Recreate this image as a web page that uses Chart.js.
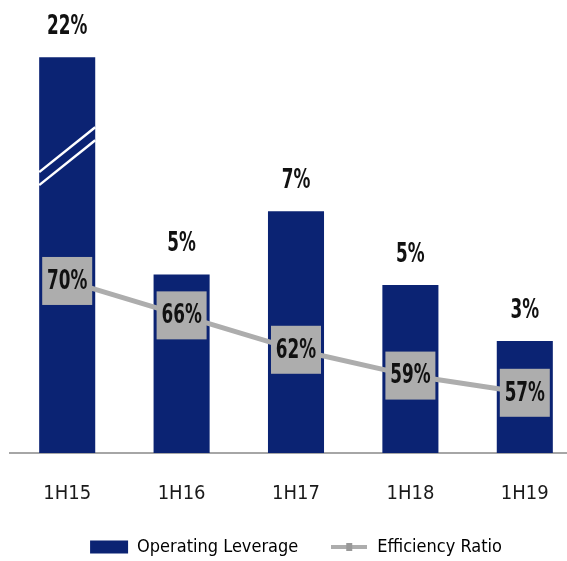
<!DOCTYPE html>
<html>
<head>
<meta charset="utf-8">
<script src="https://cdn.jsdelivr.net/npm/chart.js@4.4.1/dist/chart.umd.min.js"></script>
<style>
  html, body { margin: 0; padding: 0; background: #fff; overflow: hidden; }
  #chart-container { position: relative; width: 582px; height: 566px; }
</style>
</head>
<body>
<div id="chart-container"><canvas id="leverage-chart"></canvas></div>
<script>
const periods = ['1H15', '1H16', '1H17', '1H18', '1H19'];
const operatingLeverage = [22, 5.1, 6.9, 4.8, 3.2];
const efficiencyRatio = [70, 66, 62, 59, 57];
const breakValue = 11.3; // bars taller than this get cut, with break marks

const navy = '#0b2373';
const gray = '#adadad';
const fontFamily = "'Liberation Sans Narrow', 'DejaVu Sans Condensed', sans-serif";

// legend icon for the line: grey stroke with a small marker
const lineIcon = document.createElement('canvas');
lineIcon.width = 36;
lineIcon.height = 14;
const ictx = lineIcon.getContext('2d');
ictx.strokeStyle = gray;
ictx.lineWidth = 4;
ictx.beginPath();
ictx.moveTo(0, 7);
ictx.lineTo(36, 7);
ictx.stroke();
ictx.fillStyle = '#999';
ictx.fillRect(15, 3, 6, 8);

// the source uses a tall narrow font, so squeeze the text a bit
function narrowText(ctx, text, x, y) {
    ctx.save();
    ctx.translate(x, y);
    ctx.scale(0.72, 1);
    ctx.fillText(text, 0, 0);
    ctx.restore();
}

const labelPlugin = {
    id: 'valueLabels',
    afterDatasetsDraw(chart) {
        const ctx = chart.ctx;
        const yScale = chart.scales.y;
        ctx.save();
        ctx.textAlign = 'center';
        ctx.textBaseline = 'middle';
        ctx.font = `bold 26px ${fontFamily}`;

        chart.getDatasetMeta(0).data.forEach((bar, i) => {
            if (operatingLeverage[i] > breakValue) {
                const left = bar.x - bar.width / 2;
                const right = bar.x + bar.width / 2;
                const mid = yScale.getPixelForValue(breakValue * 0.75);
                const dy = bar.width * 0.4;
                ctx.strokeStyle = '#fff';
                ctx.lineWidth = 2.5;
                [-6.5, 6.5].forEach(off => {
                    ctx.beginPath();
                    ctx.moveTo(left, mid + dy + off);
                    ctx.lineTo(right, mid - dy + off);
                    ctx.stroke();
                });
            }
            ctx.fillStyle = '#111';
            narrowText(ctx, Math.round(operatingLeverage[i]) + '%', bar.x, bar.y - 30);
        });

        chart.getDatasetMeta(1).data.forEach((pt, i) => {
            ctx.fillStyle = gray;
            ctx.fillRect(pt.x - 25, pt.y - 24, 50, 48);
            ctx.fillStyle = '#111';
            narrowText(ctx, efficiencyRatio[i] + '%', pt.x, pt.y + 1);
        });
        ctx.restore();
    }
};

const ctx = document.getElementById('leverage-chart').getContext('2d');
const myChart = new Chart(ctx, {
    data: {
        labels: periods,
        datasets: [
            {
                type: 'bar',
                label: 'Operating Leverage',
                data: operatingLeverage.map(v => Math.min(v, breakValue)),
                backgroundColor: navy,
                borderWidth: 0,
                barPercentage: 0.98,
                categoryPercentage: 0.5,
                yAxisID: 'y',
                order: 1
            },
            {
                type: 'line',
                label: 'Efficiency Ratio',
                data: efficiencyRatio,
                borderColor: gray,
                borderWidth: 5,
                pointRadius: 0,
                tension: 0,
                yAxisID: 'y2',
                order: 0
            }
        ]
    },
    options: {
        responsive: true,
        maintainAspectRatio: false,
        animation: false,
        layout: {
            padding: { top: 10, left: 10, right: 0, bottom: 0 }
        },
        scales: {
            x: {
                offset: true,
                grid: { display: false, drawTicks: true, tickLength: 29 },
                border: { display: true, color: '#a6a6a6', width: 2 },
                ticks: {
                    color: '#1a1a1a',
                    padding: 0,
                    font: { family: fontFamily, size: 20 }
                }
            },
            y: {
                display: false,
                min: 0,
                max: 12.65
            },
            y2: {
                display: false,
                min: 50,
                max: 101.5
            }
        },
        plugins: {
            tooltip: { enabled: false },
            legend: {
                display: true,
                position: 'bottom',
                labels: {
                    color: '#1a1a1a',
                    font: { family: fontFamily, size: 18 },
                    usePointStyle: true,
                    pointStyleWidth: 38,
                    boxWidth: 38,
                    boxHeight: 13,
                    padding: 32,
                    generateLabels: (chart) => [
                        {
                            text: chart.data.datasets[0].label,
                            fillStyle: navy,
                            strokeStyle: navy,
                            lineWidth: 0,
                            pointStyle: 'rect',
                            datasetIndex: 0,
                            hidden: false
                        },
                        {
                            text: chart.data.datasets[1].label,
                            fillStyle: gray,
                            strokeStyle: gray,
                            lineWidth: 0,
                            pointStyle: lineIcon,
                            datasetIndex: 1,
                            hidden: false
                        }
                    ]
                }
            }
        }
    },
    plugins: [labelPlugin]
});
</script>
</body>
</html>
